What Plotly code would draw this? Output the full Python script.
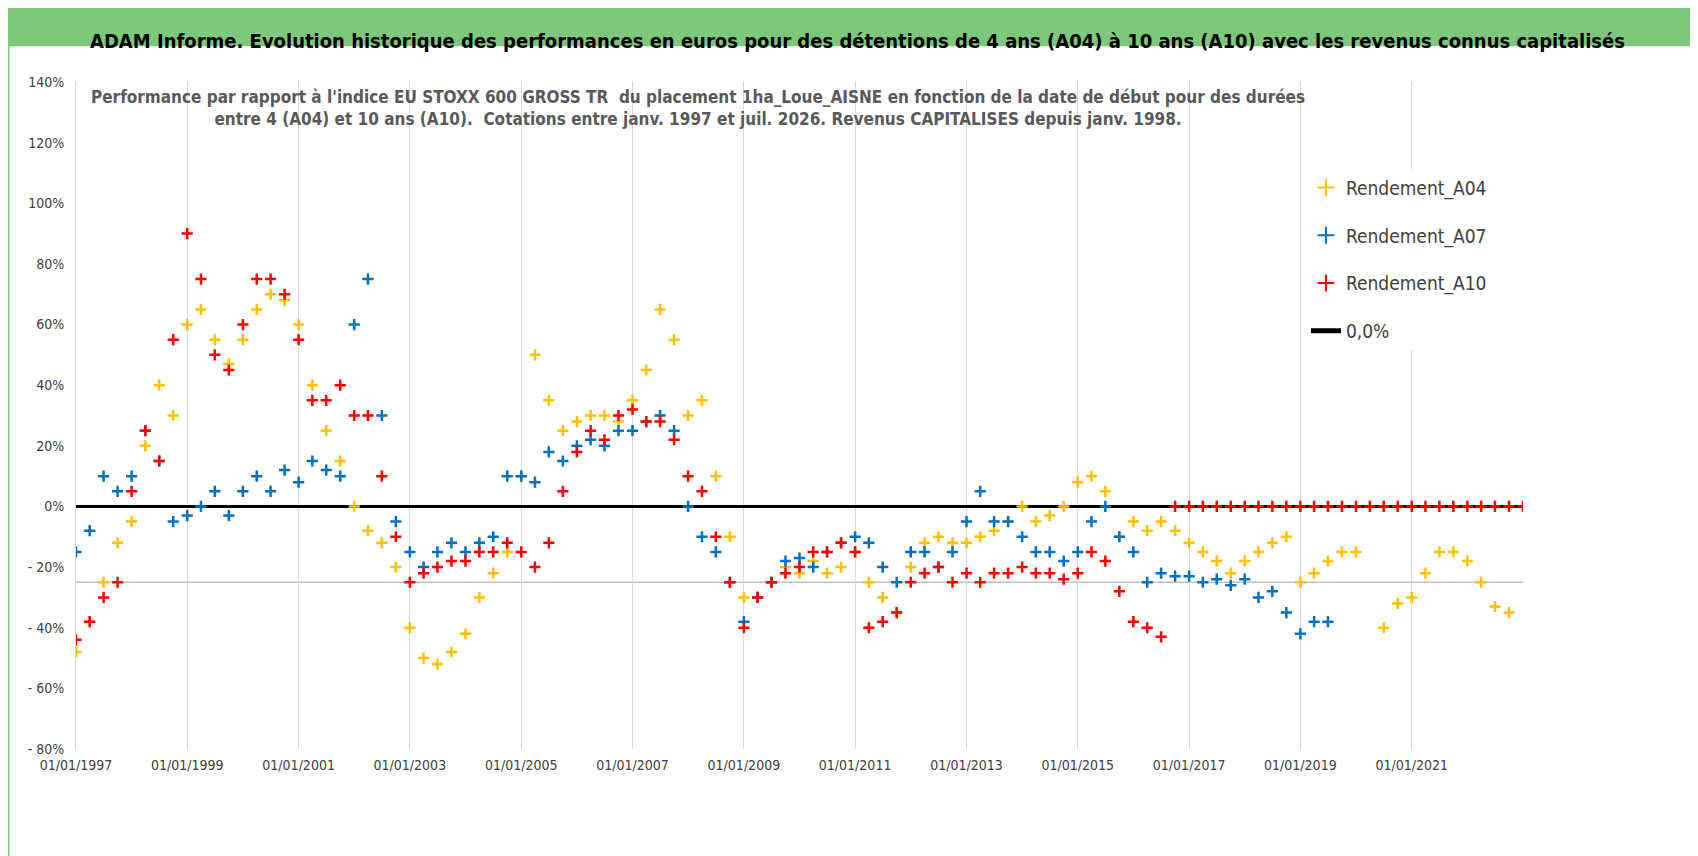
import pandas as pd
import plotly.graph_objects as go

a04 = [-48,-38,-25,-12,-5,20,40,30,60,65,55,47,55,65,70,68,60,40,25,15,0,-8,-12,-20,-40,-50,-52,-48,-42,-30,-22,-15,10,50,35,25,28,30,30,28,35,45,65,55,30,35,10,-10,-30,-30,-25,-20,-22,-18,-22,-20,-15,-25,-30,-35,-20,-12,-10,-12,-12,-10,-8,-5,0,-5,-3,0,8,10,5,-10,-5,-8,-5,-8,-12,-15,-18,-22,-18,-15,-12,-10,-25,-22,-18,-15,-15,None,-40,-32,-30,-22,-15,-15,-18,-25,-33,-35]
a07 = [-15,-8,10,5,10,25,15,-5,-3,0,5,-3,5,10,5,12,8,15,12,10,60,75,30,-5,-15,-20,-15,-12,-15,-12,-10,10,10,8,18,15,20,22,20,25,25,28,30,25,0,-10,-15,-25,-38,-30,-25,-18,-17,-20,-15,-12,-10,-12,-20,-25,-15,-15,-20,-15,-5,5,-5,-5,-10,-15,-15,-18,-15,-5,0,-10,-15,-25,-22,-23,-23,-25,-24,-26,-24,-30,-28,-35,-42,-38,-38]
a10 = [-44,-38,-30,-25,5,25,15,55,90,75,50,45,60,75,75,70,55,35,35,40,30,30,10,-10,-25,-22,-20,-18,-18,-15,-15,-12,-15,-20,-12,5,18,25,22,30,32,28,28,22,10,5,-10,-25,-40,-30,-25,-22,-20,-15,-15,-12,-15,-40,-38,-35,-25,-22,-20,-25,-22,-25,-22,-22,-20,-22,-22,-24,-22,-15,-18,-28,-38,-40,-43,
       0,0,0,0,0,0,0,0,0,0,0,0,0,0,0,0,0,0,0,0,0,0,0,0,0,0]
tick_years = list(range(1997, 2023, 2))
y_ticks = [140,120,100,80,60,40,20,0,-20,-40,-60,-80]

def dates(n):
    return pd.date_range("1997-01-01", periods=n, freq="QS")

FONT = "DejaVu Sans Condensed, Liberation Sans Narrow, Roboto, sans-serif"
fig = go.Figure()
fig.add_trace(go.Scatter(x=[pd.Timestamp("1997-01-01"), pd.Timestamp("2023-01-01")], y=[0, 0], mode="lines",
    name="0,0%", legendrank=4, legendgroup="z", line=dict(color="black", width=3)))
for i, (name, vals, col) in enumerate([("Rendement_A04", a04, "#FFC000"), ("Rendement_A07", a07, "#0070C0"), ("Rendement_A10", a10, "#FF0000")]):
    fig.add_trace(go.Scatter(x=dates(len(vals)), y=vals, mode="markers", name=name, legendrank=i + 1, legendgroup=name,
        marker=dict(symbol="cross-thin", size=8, line=dict(width=2.5, color=col), color=col)))
fig.add_shape(type="line", xref="paper", x0=0, x1=1, y0=-25, y1=-25, line=dict(color="#BFBFBF", width=1.5), layer="below")
fig.add_shape(type="rect", xref="paper", yref="paper", x0=-0.047, x1=1.125, y0=1.0535, y1=1.11,
    fillcolor="#7DC87A", line=dict(width=0), layer="below")
fig.add_shape(type="rect", xref="paper", yref="paper", x0=-0.047, x1=1.125, y0=-0.18, y1=1.11,
    line=dict(color="#7DC87A", width=3), layer="below")
fig.add_annotation(text="<b>ADAM Informe. Evolution historique des performances en euros pour des détentions de 4 ans (A04) à 10 ans (A10) avec les revenus connus capitalisés</b>",
    xref="paper", yref="paper", x=0.54, y=1.082, showarrow=False, font=dict(family=FONT, size=20, color="black"))
fig.add_annotation(text="<b>Performance par rapport à l'indice EU STOXX 600 GROSS TR  du placement 1ha_Loue_AISNE en fonction de la date de début pour des durées<br>entre 4 (A04) et 10 ans (A10).  Cotations entre janv. 1997 et juil. 2026. Revenus CAPITALISES depuis janv. 1998.</b>",
    xref="paper", yref="paper", x=0.43, y=0.995, showarrow=False, font=dict(family=FONT, size=17, color="#595959"))
fig.update_layout(
    width=1698, height=856, margin=dict(l=68, r=183, t=74, b=115),
    paper_bgcolor="white", plot_bgcolor="white", font=dict(family=FONT, color="#404040"),
    legend=dict(x=0.85, y=0.87, xanchor="left", yanchor="top", font=dict(size=19, color="#404040"),
        bgcolor="white", itemsizing="constant", traceorder="grouped", tracegroupgap=20),
    xaxis=dict(range=[pd.Timestamp("1997-01-01"), pd.Timestamp("2023-01-01")],
        tickvals=[pd.Timestamp(f"{y}-01-01") for y in tick_years], ticktext=[f"01/01/{y}" for y in tick_years],
        showgrid=True, gridcolor="#D9D9D9", tickfont=dict(size=14), zeroline=False, showline=False, ticklabelstandoff=6),
    yaxis=dict(range=[-80, 140], tickvals=y_ticks,
        ticktext=[f"{v}%" if v >= 0 else f"- {abs(v)}%" for v in y_ticks], ticklabelstandoff=8,
        showgrid=False, zeroline=False, tickfont=dict(size=14), showline=True, linecolor="#D9D9D9"),
)
fig.write_html("out.html")
